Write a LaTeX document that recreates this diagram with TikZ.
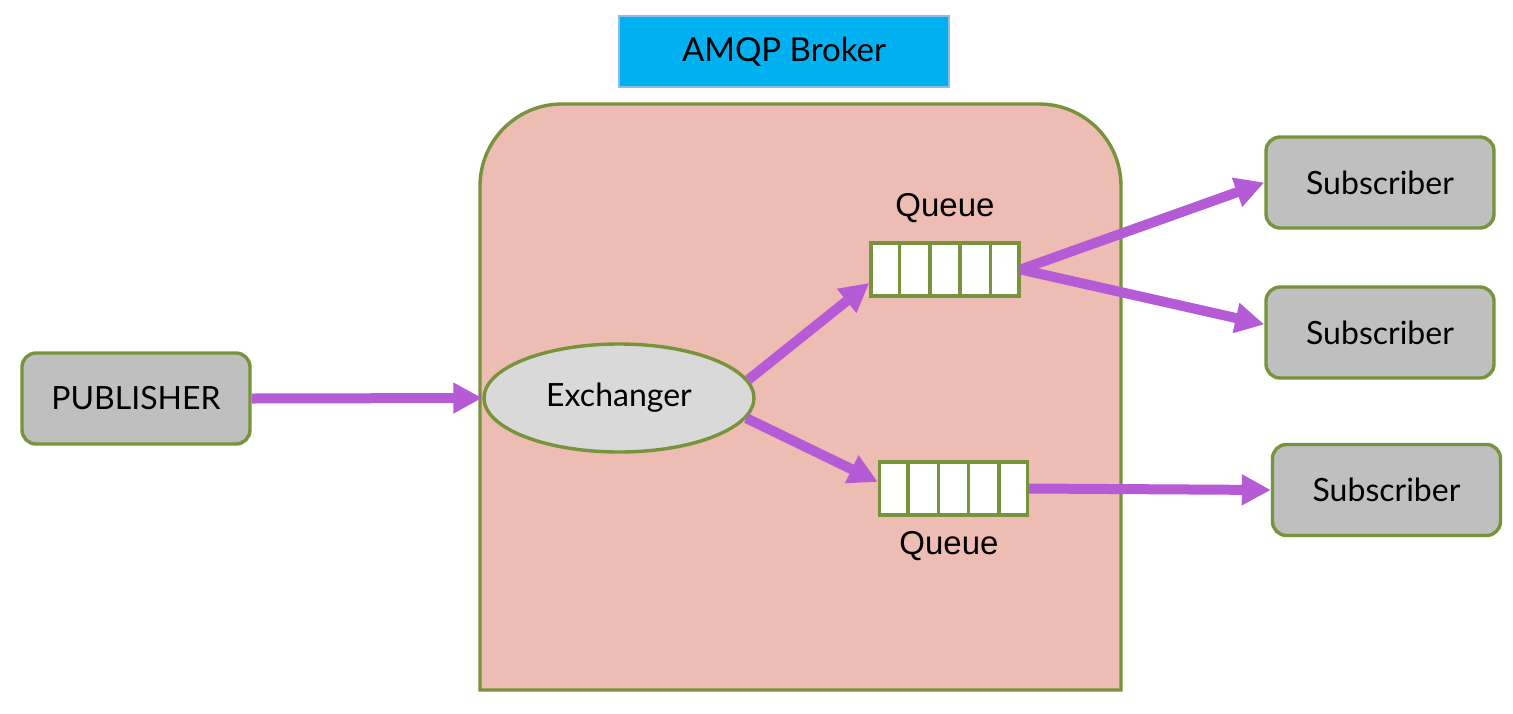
\documentclass[tikz,border=0pt]{standalone}
\usepackage{fontspec}
\setmainfont{Lato}
\newfontfamily\qfont{Liberation Sans}
\usetikzlibrary{shapes.geometric,arrows.meta,calc}
\definecolor{grn}{HTML}{77933C}
\definecolor{brk}{HTML}{EDBCB2}
\definecolor{pur}{HTML}{B55BD5}
\definecolor{gry}{HTML}{BFBFBF}
\definecolor{lgry}{HTML}{D9D9D9}
\definecolor{cyn}{HTML}{00B0F0}
\definecolor{cynb}{HTML}{8EBCE8}
\tikzset{
  box/.style={draw=grn,line width=3.4pt,fill=gry,rounded corners=14pt,minimum width=228pt,minimum height=91pt,inner sep=0pt,font=\fontsize{32}{38}\selectfont},
  qbox/.style={draw=grn,line width=3.4pt,fill=white,minimum width=148pt,minimum height=53pt,inner sep=0pt},
  qlabel/.style={font=\qfont\fontsize{33}{38}\selectfont,inner sep=0pt},
  conn/.style={draw=pur,line width=10pt,-{Triangle[length=29pt,width=29pt]}}
}
\begin{document}
\begin{tikzpicture}[x=1pt,y=-1pt]
\useasboundingbox (0,0) rectangle (1513,713);
% broker body
\draw[draw=grn,line width=3.4pt,fill=brk] (480,690) {[rounded corners=82pt] -- (480,104) -- (1121,104)} -- (1121,690) -- cycle;
% title
\node[draw=cynb,line width=2.5pt,fill=cyn,minimum width=330pt,minimum height=71pt,inner sep=0pt,font=\fontsize{33}{38}\selectfont] (title) at (784,51.5) {AMQP Broker};
% nodes
\node[box] (pub) at (136,398.5) {\raisebox{-2pt}{PUBLISHER}};
\node[ellipse,draw=grn,line width=3.4pt,fill=lgry,minimum width=270pt,minimum height=108pt,inner sep=0pt,font=\fontsize{32}{38}\selectfont] (exch) at (619,398) {\raisebox{-3pt}{Exchanger}};
\node[qbox] (q1) at (945,269.5) {};
\node[qbox] (q2) at (953.5,488.5) {};
\foreach \q in {q1,q2}{
  \foreach \i in {1,...,4}{
    \draw[grn,line width=3.4pt] ($(\q.north west)!\i/5!(\q.north east)$) -- ($(\q.south west)!\i/5!(\q.south east)$);
  }
}
\node[qlabel] (q1l) at (945,208) {Queue};
\node[qlabel] (q2l) at (949,546) {Queue};
\node[box] (s1) at (1380,182.5) {\raisebox{-2pt}{Subscriber}};
\node[box] (s2) at (1380,332.5) {\raisebox{-2pt}{Subscriber}};
\node[box] (s3) at (1386.5,490) {\raisebox{-2pt}{Subscriber}};
% connectors
\draw[conn] (pub.east) -- (exch.west);
\draw[conn] (exch.8) -- (q1.190);
\draw[conn] (exch.-9) -- (q2.175);
\draw[conn] (q1.east) -- (s1.west);
\draw[conn] (q1.east) -- (s2.176);
\draw[conn] (q2.east) -- (s3.west);
\end{tikzpicture}
\end{document}
